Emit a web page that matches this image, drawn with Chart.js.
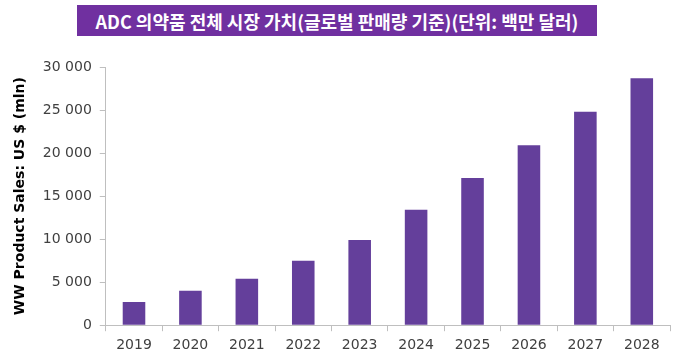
<!DOCTYPE html>
<html>
<head>
<meta charset="utf-8">
<script src="https://cdn.jsdelivr.net/npm/chart.js@4.4.1/dist/chart.umd.min.js"></script>
<style>
  html, body { margin: 0; padding: 0; background: #fff; }
  #wrap { position: relative; width: 680px; height: 364px; }
  #title {
    position: absolute; left: 77px; top: 5px; width: 520px; height: 31px;
    background: #7030a0; color: #fff;
    font: bold 18px "Noto Sans CJK KR", "Noto Sans", sans-serif;
    display: flex; align-items: center; justify-content: center;
  }
</style>
</head>
<body>
<div id="wrap">
  <canvas id="chart" width="680" height="364"></canvas>
  <div id="title">ADC 의약품 전체 시장 가치(글로벌 판매량 기준)(단위: 백만 달러)</div>
</div>
<script>
// Data
const years = ["2019", "2020", "2021", "2022", "2023", "2024", "2025", "2026", "2027", "2028"];
const sales = [2700, 4000, 5400, 7500, 9900, 13400, 17100, 20900, 24800, 28700];
const yTitle = "WW Product Sales: US $ (mln)";

const BAR = "#643f9b";
const AXIS = "#bfbfbf";
const TEXT = "#404040";
const FONT = "'DejaVu Sans', sans-serif";

function fmt(v) {
  return String(v).replace(/\B(?=(\d{3})+(?!\d))/g, " ");
}

new Chart(document.getElementById("chart"), {
  type: "bar",
  data: {
    labels: years,
    datasets: [{
      data: sales,
      backgroundColor: BAR,
      borderWidth: 0,
      categoryPercentage: 1,
      barPercentage: 0.4,
    }],
  },
  options: {
    responsive: false,
    animation: false,
    layout: { padding: { top: 67, right: 10, left: 8, bottom: 4 } },
    plugins: { legend: { display: false }, tooltip: { enabled: false } },
    scales: {
      x: {
        grid: { drawOnChartArea: false, drawTicks: true, tickLength: 6, color: AXIS },
        border: { color: AXIS },
        ticks: { color: TEXT, font: { family: FONT, size: 14 }, padding: 6 },
      },
      y: {
        min: 0,
        max: 30000,
        grid: { drawOnChartArea: false, drawTicks: true, tickLength: 6, color: AXIS },
        border: { color: AXIS },
        ticks: {
          stepSize: 5000,
          color: TEXT,
          font: { family: FONT, size: 14 },
          padding: 8,
          callback: (v) => fmt(v),
        },
        title: {
          display: true,
          text: yTitle,
          color: "#000",
          font: { family: FONT, size: 14, weight: "bold" },
          padding: { bottom: 6 },
        },
      },
    },
  },
});
</script>
</body>
</html>
